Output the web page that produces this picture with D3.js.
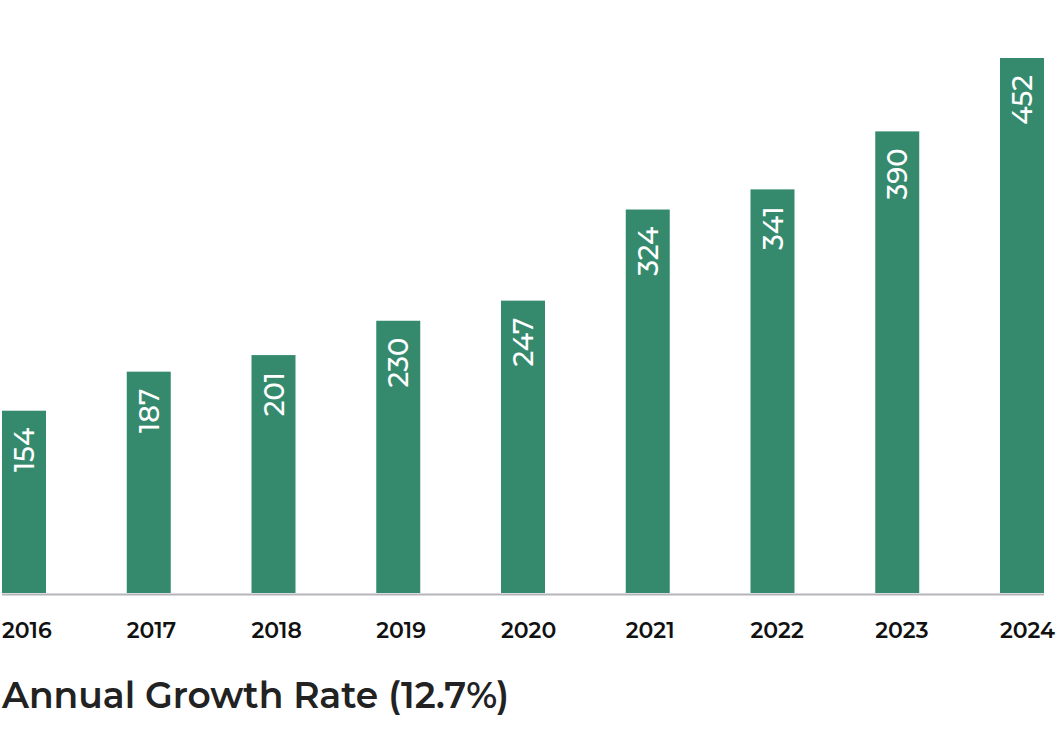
<!DOCTYPE html>
<html>
<head>
<meta charset="utf-8">
<script src="https://cdn.jsdelivr.net/npm/d3@7"></script>
<style>
  html, body { margin: 0; padding: 0; background: #fff; }
  svg { display: block; }
  text { font-family: Montserrat, "Open Sans", "Noto Sans", sans-serif; }
</style>
</head>
<body>
<svg id="chart" width="1058" height="730"></svg>
<script>
const years = ["2016", "2017", "2018", "2019", "2020", "2021", "2022", "2023", "2024"];
const values = [154, 187, 201, 230, 247, 324, 341, 390, 452];
const title = "Annual Growth Rate (12.7%)";

const svg = d3.select("#chart");
const x = d3.scaleBand().domain(years).range([2, 1044]).paddingInner(1 - 44 / 124.75).paddingOuter(0);
const y = d3.scaleLinear().domain([0, 452]).range([593, 58]);

const data = years.map((yr, i) => ({ yr, v: values[i] }));

svg.selectAll("rect.bar").data(data).enter().append("rect")
  .attr("class", "bar")
  .attr("x", d => x(d.yr))
  .attr("width", x.bandwidth())
  .attr("y", d => y(d.v))
  .attr("height", d => y(0) - y(d.v))
  .attr("fill", "#358a6e");

svg.selectAll("text.val").data(data).enter().append("text")
  .attr("class", "val")
  .attr("transform", d => `translate(${x(d.yr) + x.bandwidth() / 2 + 10},${y(d.v) + 17}) rotate(-90)`)
  .attr("text-anchor", "end")
  .attr("fill", "#fff")
  .attr("font-size", 27.5)
  .attr("font-weight", 500)
  .text(d => d.v);

// baseline
svg.append("line")
  .attr("x1", x.range()[0]).attr("x2", x.range()[1])
  .attr("y1", y(0) + 1.5).attr("y2", y(0) + 1.5)
  .attr("stroke", "#b5b4ba").attr("stroke-width", 2);

// axis labels
svg.selectAll("text.tick").data(years).enter().append("text")
  .attr("class", "tick")
  .attr("x", d => x(d))
  .attr("y", 638)
  .attr("font-size", 22)
  .attr("font-weight", 600)
  .attr("fill", "#111")
  .text(d => d);

svg.append("text")
  .attr("x", 2).attr("y", 708)
  .attr("font-size", 36)
  .attr("font-weight", 600)
  .attr("fill", "#222")
  .text(title);
</script>
</body>
</html>
